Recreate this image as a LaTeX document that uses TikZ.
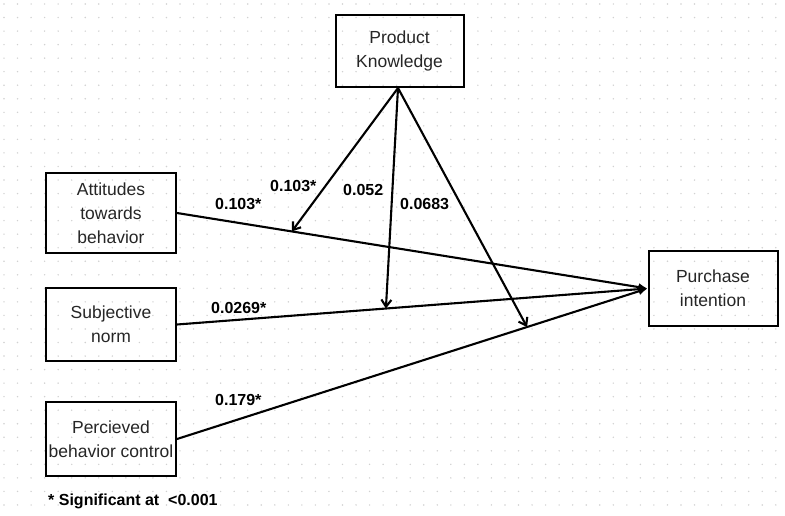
\documentclass[tikz,border=0pt]{standalone}
\usepackage{fontspec}
\setmainfont{Liberation Sans}
\usetikzlibrary{arrows.meta,calc}
\begin{document}
\begin{tikzpicture}[x=1pt,y=-1pt,
  box/.style={draw=black, line width=2pt, inner sep=0pt, align=center,
    font=\fontsize{17.5}{24}\selectfont, text=black!85},
  lbl/.style={anchor=base west, inner sep=0pt, font=\fontsize{16}{19}\selectfont\bfseries},
  conn/.style={line width=2.1pt, -{Latex[length=9pt,width=8pt]}},
  modarrow/.style={line width=2.1pt, -{Straight Barb[length=7pt,width=10pt]}},
  griddot/.style={fill=black!18}]
\useasboundingbox (0,0) rectangle (785,516);
\fill[white] (0,0) rectangle (785,516);
\foreach \i in {0,...,57}{
  \foreach \j in {0,...,37}{
    \fill[griddot] ({4+\i*13.54},{4+\j*13.54}) circle (0.8);
  }
}
\node[box, minimum width=128, minimum height=72] (PK) at (399.5,51) {Product\\Knowledge};
\node[box, minimum width=130, minimum height=80] (ATT) at (111,213) {Attitudes\\towards\\behavior};
\node[box, minimum width=130, minimum height=73] (SN) at (111,324.5) {Subjective\\norm};
\node[box, minimum width=130, minimum height=74] (PBC) at (111,439) {Percieved\\behavior control};
\node[box, minimum width=129, minimum height=75] (PI) at (713,288.5) {Purchase\\intention};

\draw[conn] (ATT.east) -- (PI.west);
\draw[conn] (SN.east) -- (PI.west);
\draw[conn] (PBC.east) -- (PI.west);

\coordinate (m1) at ($(ATT.east)!0.244!(PI.west)$);
\coordinate (m2) at ($(SN.east)!0.444!(PI.west)$);
\coordinate (m3) at ($(PBC.east)!0.744!(PI.west)$);
\coordinate (pk) at ([xshift=-1.5pt]PK.south);
\draw[modarrow] (pk) -- (m1);
\draw[modarrow] (pk) -- (m2);
\draw[modarrow] (pk) -- (m3);

\node[lbl] (l1) at (270,192) {0.103*};
\node[lbl] (l2) at (215,210) {0.103*};
\node[lbl] (l3) at (343,196) {0.052};
\node[lbl] (l4) at (400,209) {0.0683};
\node[lbl] (l5) at (211,313) {0.0269*};
\node[lbl] (l6) at (215,405) {0.179*};
\node[lbl] (fn) at (48,505) {* Significant at\ \ <0.001};
\end{tikzpicture}
\end{document}
